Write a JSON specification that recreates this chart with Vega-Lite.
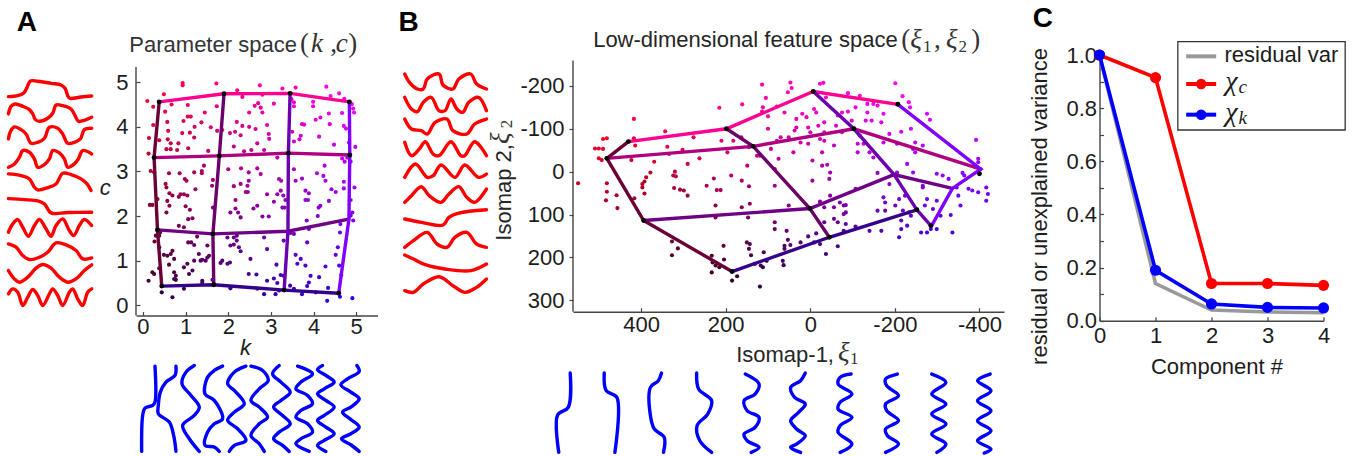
{"$schema":"https://vega.github.io/schema/vega-lite/v6.json","background":"white","padding":{"left":1,"top":5,"right":0,"bottom":0},"config":{"view":{"stroke":null},"axis":{"grid":false,"labelFont":"Liberation Sans","labelFontSize":22,"labelColor":"#1c1c1c","titleFont":"Liberation Sans","titleFontSize":22,"titleFontWeight":"normal","titleColor":"#1c1c1c","domainColor":"#444","domainWidth":1.4,"tickColor":"#444","tickWidth":1.2,"labelOverlap":false,"labelFlush":false},"text":{"baseline":"alphabetic","align":"left"}},"bounds":"flush","spacing":95.5,"resolve":{"scale":{"color":"independent"}},"hconcat":[{"width":241.5,"height":260.5,"resolve":{"scale":{"x":"independent","y":"independent","color":"independent"}},"layer":[{"data":{"values":[{"k":0.10,"c":4.58},{"k":0.24,"c":4.45},{"k":0.49,"c":4.73},{"k":0.52,"c":4.34},{"k":0.67,"c":4.5},{"k":0.93,"c":4.98},{"k":0.93,"c":4.93},{"k":1.05,"c":4.49},{"k":1.72,"c":4.97},{"k":1.73,"c":4.46},{"k":2.21,"c":4.82},{"k":2.33,"c":4.67},{"k":2.74,"c":4.93},{"k":2.70,"c":4.53},{"k":2.62,"c":4.47},{"k":3.07,"c":4.52},{"k":3.27,"c":4.86},{"k":2.80,"c":4.72},{"k":3.58,"c":4.88},{"k":3.48,"c":4.62},{"k":3.54,"c":4.55},{"k":3.54,"c":4.46},{"k":3.99,"c":4.56},{"k":3.99,"c":4.46},{"k":4.30,"c":4.90},{"k":4.40,"c":4.69},{"k":4.6,"c":4.75},{"k":4.72,"c":4.63},{"k":4.9,"c":4.51},{"k":4.93,"c":4.41},{"k":4.95,"c":4.32},{"k":4.67,"c":4.31},{"k":4.36,"c":4.3},{"k":0.24,"c":4.04},{"k":0.14,"c":3.75},{"k":0.13,"c":3.40},{"k":0.38,"c":3.70},{"k":0.57,"c":4.11},{"k":0.59,"c":3.91},{"k":0.58,"c":3.72},{"k":0.65,"c":3.63},{"k":0.55,"c":3.5},{"k":0.65,"c":3.5},{"k":0.83,"c":3.63},{"k":0.8,"c":3.48},{"k":0.95,"c":4.13},{"k":1.05,"c":4.23},{"k":1.12,"c":4.23},{"k":0.92,"c":3.86},{"k":1.1,"c":3.87},{"k":1.21,"c":4.0},{"k":1.37,"c":4.1},{"k":1.2,"c":3.76},{"k":1.06,"c":3.52},{"k":1.53,"c":3.46},{"k":1.59,"c":3.99},{"k":1.74,"c":3.91},{"k":1.86,"c":3.93},{"k":1.45,"c":4.32},{"k":2.04,"c":3.86},{"k":2.16,"c":3.89},{"k":2.2,"c":4.11},{"k":2.33,"c":4.02},{"k":2.49,"c":4.32},{"k":2.49,"c":4.0},{"k":2.29,"c":3.81},{"k":2.13,"c":3.56},{"k":2.37,"c":3.45},{"k":2.54,"c":3.48},{"k":2.68,"c":3.63},{"k":2.64,"c":3.95},{"k":2.80,"c":4.32},{"k":2.76,"c":4.43},{"k":2.91,"c":4.04},{"k":2.95,"c":3.84},{"k":2.96,"c":3.73},{"k":2.84,"c":3.48},{"k":3.15,"c":3.31},{"k":3.5,"c":3.89},{"k":3.73,"c":4.06},{"k":3.78,"c":4.05},{"k":3.7,"c":3.8},{"k":3.67,"c":3.72},{"k":3.54,"c":3.67},{"k":4.05,"c":4.16},{"k":4.16,"c":4.21},{"k":4.13,"c":3.78},{"k":4.38,"c":4.06},{"k":4.48,"c":3.6},{"k":4.71,"c":4.02},{"k":4.76,"c":3.96},{"k":4.83,"c":3.65},{"k":4.98,"c":3.55},{"k":4.67,"c":3.29},{"k":4.73,"c":3.22},{"k":4.79,"c":3.31},{"k":4.87,"c":3.22},{"k":0.18,"c":3.01},{"k":0.26,"c":2.98},{"k":0.16,"c":2.25},{"k":0.22,"c":2.25},{"k":0.34,"c":2.38},{"k":0.53,"c":2.72},{"k":0.55,"c":2.64},{"k":0.61,"c":2.96},{"k":0.62,"c":2.51},{"k":0.86,"c":2.96},{"k":0.98,"c":2.83},{"k":1.02,"c":2.79},{"k":1.2,"c":2.98},{"k":1.38,"c":3.01},{"k":1.38,"c":2.96},{"k":1.23,"c":2.6},{"k":0.88,"c":2.49},{"k":0.84,"c":2.43},{"k":0.96,"c":2.49},{"k":1.04,"c":2.46},{"k":0.69,"c":2.46},{"k":0.57,"c":2.34},{"k":0.62,"c":2.23},{"k":0.55,"c":2.08},{"k":1.0,"c":2.22},{"k":1.1,"c":2.14},{"k":1.06,"c":1.93},{"k":1.16,"c":1.95},{"k":1.64,"c":2.81},{"k":1.62,"c":2.68},{"k":1.64,"c":2.19},{"k":1.43,"c":3.13},{"k":2.0,"c":3.05},{"k":2.3,"c":3.07},{"k":2.48,"c":2.98},{"k":2.68,"c":3.07},{"k":2.76,"c":2.94},{"k":3.19,"c":2.83},{"k":3.24,"c":2.79},{"k":3.23,"c":2.57},{"k":3.15,"c":2.49},{"k":3.07,"c":2.32},{"k":3.29,"c":2.46},{"k":3.34,"c":2.36},{"k":3.27,"c":2.19},{"k":3.32,"c":2.19},{"k":2.68,"c":2.23},{"k":2.59,"c":2.17},{"k":2.91,"c":2.49},{"k":2.48,"c":2.79},{"k":2.45,"c":2.68},{"k":2.29,"c":2.72},{"k":2.13,"c":2.67},{"k":2.41,"c":2.54},{"k":2.46,"c":2.54},{"k":2.17,"c":2.36},{"k":2.17,"c":2.17},{"k":2.05,"c":2.08},{"k":2.23,"c":2.08},{"k":2.29,"c":1.97},{"k":2.8,"c":1.99},{"k":2.95,"c":1.99},{"k":3.54,"c":3.05},{"k":3.73,"c":2.84},{"k":3.58,"c":2.79},{"k":3.81,"c":2.57},{"k":3.89,"c":2.51},{"k":3.81,"c":2.36},{"k":3.87,"c":2.36},{"k":4.08,"c":2.96},{"k":4.23,"c":2.9},{"k":4.28,"c":2.79},{"k":4.26,"c":3.13},{"k":4.42,"c":2.6},{"k":4.52,"c":2.54},{"k":4.71,"c":2.77},{"k":4.71,"c":2.62},{"k":4.96,"c":2.64},{"k":4.16,"c":2.23},{"k":4.12,"c":2.19},{"k":4.1,"c":2.0},{"k":4.36,"c":2.34},{"k":4.87,"c":2.36},{"k":4.91,"c":2.08},{"k":4.93,"c":1.9},{"k":4.87,"c":2.01},{"k":3.84,"c":1.9},{"k":3.89,"c":1.71},{"k":3.85,"c":1.41},{"k":3.54,"c":1.6},{"k":4.63,"c":1.82},{"k":0.4,"c":1.63},{"k":0.27,"c":1.43},{"k":0.38,"c":1.56},{"k":0.3,"c":1.56},{"k":0.49,"c":1.13},{"k":0.57,"c":1.11},{"k":0.65,"c":1.15},{"k":0.69,"c":1.22},{"k":0.38,"c":1.3},{"k":0.22,"c":0.74},{"k":0.26,"c":0.7},{"k":0.13,"c":0.55},{"k":0.38,"c":0.83},{"k":0.61,"c":0.91},{"k":0.73,"c":1.04},{"k":0.84,"c":1.78},{"k":0.96,"c":1.75},{"k":1.06,"c":1.41},{"k":1.13,"c":1.41},{"k":1.2,"c":1.35},{"k":1.27,"c":1.54},{"k":1.31,"c":1.15},{"k":1.2,"c":1.0},{"k":1.35,"c":1.0},{"k":1.39,"c":1.02},{"k":1.47,"c":1.0},{"k":1.55,"c":1.11},{"k":1.51,"c":1.07},{"k":1.51,"c":1.34},{"k":1.04,"c":0.93},{"k":0.96,"c":0.85},{"k":1.16,"c":0.78},{"k":1.08,"c":0.7},{"k":0.73,"c":0.74},{"k":0.77,"c":0.66},{"k":0.73,"c":0.59},{"k":0.77,"c":0.57},{"k":0.44,"c":0.29},{"k":0.69,"c":0.18},{"k":0.96,"c":0.37},{"k":1.39,"c":0.55},{"k":1.39,"c":0.5},{"k":1.63,"c":0.57},{"k":2.05,"c":0.38},{"k":1.86,"c":1.0},{"k":1.82,"c":0.95},{"k":1.98,"c":0.93},{"k":2.04,"c":0.96},{"k":2.05,"c":1.34},{"k":2.13,"c":1.36},{"k":2.2,"c":1.45},{"k":1.98,"c":1.52},{"k":2.13,"c":1.52},{"k":2.2,"c":1.56},{"k":2.25,"c":1.3},{"k":2.29,"c":1.21},{"k":2.52,"c":1.04},{"k":2.48,"c":0.7},{"k":2.66,"c":0.69},{"k":2.84,"c":0.25},{"k":3.11,"c":0.25},{"k":3.19,"c":0.33},{"k":2.68,"c":0.37},{"k":2.91,"c":0.55},{"k":3.13,"c":0.91},{"k":3.07,"c":0.6},{"k":3.23,"c":0.68},{"k":3.3,"c":0.66},{"k":3.15,"c":0.5},{"k":2.91,"c":1.26},{"k":2.84,"c":1.52},{"k":3.3,"c":1.45},{"k":3.46,"c":1.62},{"k":3.58,"c":1.13},{"k":3.7,"c":1.04},{"k":3.62,"c":0.93},{"k":3.81,"c":0.89},{"k":3.93,"c":0.66},{"k":4.13,"c":0.63},{"k":3.85,"c":0.43},{"k":3.89,"c":0.51},{"k":3.73,"c":0.25},{"k":4.28,"c":0.87},{"k":4.52,"c":1.13},{"k":4.57,"c":1.3},{"k":4.6,"c":0.89},{"k":4.62,"c":1.63},{"k":4.65,"c":0.68},{"k":4.34,"c":0.39},{"k":4.32,"c":0.1},{"k":4.05,"c":0.29},{"k":4.62,"c":0.19},{"k":4.91,"c":0.16},{"k":3.45,"c":0.44},{"k":3.54,"c":0.37}]},"transform":[{"calculate":"'rgb('+round(40+datum.c*44)+',0,'+round(40+datum.k*43)+')'","as":"col"}],"mark":{"type":"circle","size":17,"opacity":1},"encoding":{"x":{"field":"k","type":"quantitative","scale":{"domain":[-0.164,5.5],"nice":false,"zero":false},"axis":{"values":[0,1,2,3,4,5],"format":"d","tickSize":-4,"labelPadding":4.5,"domain":true,"title":"k","titleFont":"Liberation Sans","titleFontStyle":"italic","titleX":109,"titlePadding":0}},"y":{"field":"c","type":"quantitative","scale":{"domain":[-0.229,5.61],"nice":false,"zero":false},"axis":{"values":[0,1,2,3,4,5],"format":"d","tickSize":-4,"labelPadding":12,"domain":false,"title":"c","titleAngle":0,"titleFontStyle":"italic","titleY":144,"titlePadding":11}},"color":{"field":"col","type":"nominal","scale":null}}},{"data":{"values":[{"a":-0.164,"b":-0.229,"b2":5.34}]},"mark":{"type":"rule","color":"#444","strokeWidth":1.4},"encoding":{"x":{"field":"a","type":"quantitative","scale":{"domain":[-0.164,5.5],"nice":false,"zero":false},"axis":null},"y":{"field":"b","type":"quantitative","scale":{"domain":[-0.229,5.61],"nice":false,"zero":false},"axis":null},"y2":{"field":"b2"}}},{"data":{"values":[{"l":"c5","k":0.38,"c":4.56},{"l":"c5","k":1.9,"c":4.74},{"l":"c5","k":3.45,"c":4.75},{"l":"c5","k":4.84,"c":4.56},{"l":"c3","k":0.26,"c":3.31},{"l":"c3","k":1.79,"c":3.35},{"l":"c3","k":3.41,"c":3.41},{"l":"c3","k":4.85,"c":3.37},{"l":"c2","k":0.34,"c":1.69},{"l":"c2","k":1.64,"c":1.6},{"l":"c2","k":3.4,"c":1.66},{"l":"c2","k":4.83,"c":1.93},{"l":"c0","k":0.44,"c":0.43},{"l":"c0","k":1.66,"c":0.46},{"l":"c0","k":3.31,"c":0.34},{"l":"c0","k":4.59,"c":0.27},{"l":"k0","k":0.38,"c":4.56},{"l":"k0","k":0.26,"c":3.31},{"l":"k0","k":0.34,"c":1.69},{"l":"k0","k":0.44,"c":0.43},{"l":"k2","k":1.9,"c":4.74},{"l":"k2","k":1.79,"c":3.35},{"l":"k2","k":1.64,"c":1.6},{"l":"k2","k":1.66,"c":0.46},{"l":"k3","k":3.45,"c":4.75},{"l":"k3","k":3.41,"c":3.41},{"l":"k3","k":3.4,"c":1.66},{"l":"k3","k":3.31,"c":0.34},{"l":"k5","k":4.84,"c":4.56},{"l":"k5","k":4.85,"c":3.37},{"l":"k5","k":4.83,"c":1.93},{"l":"k5","k":4.59,"c":0.27}]},"mark":{"type":"line","strokeWidth":3.4,"strokeCap":"round"},"encoding":{"x":{"field":"k","type":"quantitative","scale":{"domain":[-0.164,5.5],"nice":false,"zero":false},"axis":null},"y":{"field":"c","type":"quantitative","scale":{"domain":[-0.229,5.61],"nice":false,"zero":false},"axis":null},"color":{"field":"l","type":"nominal","legend":null,"scale":{"domain":["c5","c3","c2","c0","k0","k2","k3","k5"],"range":["#ff0090","#b00080","#6f0085","#35008a","#6a0035","#6a0068","#6a00b0","#8000ff"]}},"order":{"value":null}}},{"data":{"values":[{"k":0.38,"c":4.56},{"k":1.9,"c":4.74},{"k":3.45,"c":4.75},{"k":4.84,"c":4.56},{"k":0.26,"c":3.31},{"k":1.79,"c":3.35},{"k":3.41,"c":3.41},{"k":4.85,"c":3.37},{"k":0.34,"c":1.69},{"k":1.64,"c":1.6},{"k":0.44,"c":0.43},{"k":1.66,"c":0.46},{"k":3.31,"c":0.34},{"k":4.59,"c":0.27}]},"mark":{"type":"circle","size":24,"color":"#000","opacity":1},"encoding":{"x":{"field":"k","type":"quantitative","scale":{"domain":[-0.164,5.5],"nice":false,"zero":false},"axis":null},"y":{"field":"c","type":"quantitative","scale":{"domain":[-0.229,5.61],"nice":false,"zero":false},"axis":null}}},{"data":{"values":[{"w":"r1","x":22,"y":293},{"w":"r1","x":50,"y":290},{"w":"r1","x":68,"y":282},{"w":"r1","x":78,"y":265},{"w":"r1","x":88,"y":246},{"w":"r1","x":110,"y":247},{"w":"r1","x":150,"y":253},{"w":"r1","x":180,"y":258},{"w":"r1","x":192,"y":268},{"w":"r1","x":200,"y":290},{"w":"r1","x":206,"y":298},{"w":"r1","x":240,"y":294},{"w":"r1","x":272,"y":291},{"w":"r2","x":22,"y":345},{"w":"r2","x":30,"y":322},{"w":"r2","x":42,"y":315},{"w":"r2","x":65,"y":322},{"w":"r2","x":85,"y":332},{"w":"r2","x":95,"y":345},{"w":"r2","x":103,"y":362},{"w":"r2","x":115,"y":367},{"w":"r2","x":140,"y":358},{"w":"r2","x":155,"y":343},{"w":"r2","x":165,"y":318},{"w":"r2","x":185,"y":320},{"w":"r2","x":210,"y":330},{"w":"r2","x":222,"y":350},{"w":"r2","x":232,"y":367},{"w":"r2","x":250,"y":364},{"w":"r2","x":272,"y":355},{"w":"r3","x":22,"y":420},{"w":"r3","x":28,"y":398},{"w":"r3","x":40,"y":384},{"w":"r3","x":60,"y":392},{"w":"r3","x":75,"y":405},{"w":"r3","x":90,"y":433},{"w":"r3","x":110,"y":430},{"w":"r3","x":130,"y":418},{"w":"r3","x":145,"y":385},{"w":"r3","x":170,"y":388},{"w":"r3","x":185,"y":405},{"w":"r3","x":200,"y":433},{"w":"r3","x":220,"y":430},{"w":"r3","x":238,"y":420},{"w":"r3","x":250,"y":392},{"w":"r3","x":272,"y":388},{"w":"r4","x":22,"y":505},{"w":"r4","x":40,"y":495},{"w":"r4","x":55,"y":475},{"w":"r4","x":65,"y":455},{"w":"r4","x":85,"y":460},{"w":"r4","x":100,"y":480},{"w":"r4","x":110,"y":505},{"w":"r4","x":130,"y":497},{"w":"r4","x":145,"y":480},{"w":"r4","x":155,"y":455},{"w":"r4","x":175,"y":462},{"w":"r4","x":190,"y":480},{"w":"r4","x":200,"y":505},{"w":"r4","x":220,"y":495},{"w":"r4","x":232,"y":480},{"w":"r4","x":245,"y":455},{"w":"r4","x":272,"y":465},{"w":"r5","x":22,"y":525},{"w":"r5","x":60,"y":530},{"w":"r5","x":85,"y":540},{"w":"r5","x":100,"y":565},{"w":"r5","x":110,"y":573},{"w":"r5","x":140,"y":566},{"w":"r5","x":165,"y":555},{"w":"r5","x":185,"y":523},{"w":"r5","x":210,"y":527},{"w":"r5","x":240,"y":540},{"w":"r5","x":258,"y":555},{"w":"r5","x":270,"y":575},{"w":"r6","x":22,"y":599},{"w":"r6","x":70,"y":602},{"w":"r6","x":110,"y":606},{"w":"r6","x":130,"y":615},{"w":"r6","x":150,"y":642},{"w":"r6","x":200,"y":641},{"w":"r6","x":272,"y":640},{"w":"r7","x":22,"y":700},{"w":"r7","x":35,"y":675},{"w":"r7","x":50,"y":662},{"w":"r7","x":65,"y":685},{"w":"r7","x":82,"y":712},{"w":"r7","x":100,"y":680},{"w":"r7","x":115,"y":662},{"w":"r7","x":135,"y":690},{"w":"r7","x":150,"y":712},{"w":"r7","x":165,"y":680},{"w":"r7","x":185,"y":660},{"w":"r7","x":205,"y":695},{"w":"r7","x":218,"y":710},{"w":"r7","x":235,"y":680},{"w":"r7","x":250,"y":662},{"w":"r7","x":272,"y":680},{"w":"r8","x":22,"y":735},{"w":"r8","x":45,"y":745},{"w":"r8","x":65,"y":770},{"w":"r8","x":85,"y":782},{"w":"r8","x":115,"y":775},{"w":"r8","x":140,"y":760},{"w":"r8","x":165,"y":732},{"w":"r8","x":195,"y":738},{"w":"r8","x":225,"y":755},{"w":"r8","x":245,"y":780},{"w":"r8","x":272,"y":777},{"w":"r9","x":22,"y":815},{"w":"r9","x":40,"y":840},{"w":"r9","x":55,"y":850},{"w":"r9","x":80,"y":835},{"w":"r9","x":105,"y":808},{"w":"r9","x":125,"y":797},{"w":"r9","x":150,"y":808},{"w":"r9","x":175,"y":835},{"w":"r9","x":200,"y":850},{"w":"r9","x":225,"y":840},{"w":"r9","x":250,"y":815},{"w":"r9","x":272,"y":798},{"w":"r10","x":22,"y":885},{"w":"r10","x":35,"y":870},{"w":"r10","x":50,"y":880},{"w":"r10","x":65,"y":920},{"w":"r10","x":80,"y":895},{"w":"r10","x":95,"y":872},{"w":"r10","x":110,"y":890},{"w":"r10","x":125,"y":920},{"w":"r10","x":145,"y":885},{"w":"r10","x":155,"y":870},{"w":"r10","x":170,"y":890},{"w":"r10","x":185,"y":920},{"w":"r10","x":205,"y":880},{"w":"r10","x":215,"y":870},{"w":"r10","x":230,"y":900},{"w":"r10","x":245,"y":920},{"w":"r10","x":260,"y":880},{"w":"r10","x":272,"y":870}]},"mark":{"type":"line","color":"#ff0000","strokeWidth":3.4,"interpolate":"catmull-rom","strokeCap":"round"},"encoding":{"x":{"field":"x","type":"quantitative","scale":{"domain":[405,1130],"nice":false,"zero":false},"axis":null},"y":{"field":"y","type":"quantitative","scale":{"domain":[950,168],"nice":false,"zero":false},"axis":null},"detail":{"field":"w"},"order":{"value":null}}},{"data":{"values":[{"w":"b1","x":462,"y":1102},{"w":"b1","x":462,"y":1210},{"w":"b1","x":455,"y":1220},{"w":"b1","x":432,"y":1228},{"w":"b1","x":425,"y":1250},{"w":"b1","x":422,"y":1358},{"w":"b2","x":525,"y":1102},{"w":"b2","x":522,"y":1130},{"w":"b2","x":495,"y":1150},{"w":"b2","x":478,"y":1180},{"w":"b2","x":472,"y":1220},{"w":"b2","x":472,"y":1245},{"w":"b2","x":505,"y":1270},{"w":"b2","x":518,"y":1310},{"w":"b2","x":525,"y":1358},{"w":"b3","x":580,"y":1100},{"w":"b3","x":555,"y":1120},{"w":"b3","x":543,"y":1155},{"w":"b3","x":570,"y":1190},{"w":"b3","x":595,"y":1225},{"w":"b3","x":580,"y":1250},{"w":"b3","x":545,"y":1280},{"w":"b3","x":565,"y":1320},{"w":"b3","x":595,"y":1358},{"w":"b4","x":665,"y":1102},{"w":"b4","x":640,"y":1115},{"w":"b4","x":620,"y":1135},{"w":"b4","x":612,"y":1185},{"w":"b4","x":640,"y":1205},{"w":"b4","x":665,"y":1260},{"w":"b4","x":640,"y":1275},{"w":"b4","x":620,"y":1300},{"w":"b4","x":612,"y":1340},{"w":"b4","x":640,"y":1345},{"w":"b4","x":655,"y":1358},{"w":"b5","x":735,"y":1102},{"w":"b5","x":700,"y":1120},{"w":"b5","x":680,"y":1155},{"w":"b5","x":700,"y":1175},{"w":"b5","x":730,"y":1215},{"w":"b5","x":700,"y":1240},{"w":"b5","x":680,"y":1265},{"w":"b5","x":710,"y":1290},{"w":"b5","x":735,"y":1325},{"w":"b5","x":700,"y":1340},{"w":"b5","x":685,"y":1358},{"w":"b6","x":750,"y":1102},{"w":"b6","x":785,"y":1115},{"w":"b6","x":802,"y":1145},{"w":"b6","x":775,"y":1170},{"w":"b6","x":750,"y":1205},{"w":"b6","x":775,"y":1225},{"w":"b6","x":800,"y":1255},{"w":"b6","x":775,"y":1275},{"w":"b6","x":750,"y":1310},{"w":"b6","x":775,"y":1335},{"w":"b6","x":790,"y":1358},{"w":"b7","x":835,"y":1100},{"w":"b7","x":815,"y":1125},{"w":"b7","x":840,"y":1150},{"w":"b7","x":868,"y":1180},{"w":"b7","x":840,"y":1205},{"w":"b7","x":818,"y":1225},{"w":"b7","x":845,"y":1250},{"w":"b7","x":868,"y":1275},{"w":"b7","x":835,"y":1300},{"w":"b7","x":818,"y":1320},{"w":"b7","x":845,"y":1340},{"w":"b7","x":865,"y":1358},{"w":"b8","x":890,"y":1102},{"w":"b8","x":935,"y":1125},{"w":"b8","x":900,"y":1150},{"w":"b8","x":885,"y":1170},{"w":"b8","x":920,"y":1190},{"w":"b8","x":935,"y":1215},{"w":"b8","x":900,"y":1235},{"w":"b8","x":885,"y":1255},{"w":"b8","x":920,"y":1275},{"w":"b8","x":935,"y":1300},{"w":"b8","x":900,"y":1320},{"w":"b8","x":885,"y":1335},{"w":"b8","x":925,"y":1358},{"w":"b9","x":965,"y":1100},{"w":"b9","x":950,"y":1112},{"w":"b9","x":975,"y":1130},{"w":"b9","x":1000,"y":1150},{"w":"b9","x":970,"y":1170},{"w":"b9","x":950,"y":1185},{"w":"b9","x":975,"y":1205},{"w":"b9","x":1000,"y":1225},{"w":"b9","x":970,"y":1250},{"w":"b9","x":950,"y":1265},{"w":"b9","x":975,"y":1285},{"w":"b9","x":1000,"y":1305},{"w":"b9","x":970,"y":1325},{"w":"b9","x":950,"y":1340},{"w":"b9","x":975,"y":1358},{"w":"b10","x":1068,"y":1100},{"w":"b10","x":1075,"y":1118},{"w":"b10","x":1040,"y":1140},{"w":"b10","x":1020,"y":1158},{"w":"b10","x":1050,"y":1180},{"w":"b10","x":1075,"y":1200},{"w":"b10","x":1050,"y":1225},{"w":"b10","x":1025,"y":1240},{"w":"b10","x":1050,"y":1262},{"w":"b10","x":1075,"y":1285},{"w":"b10","x":1050,"y":1305},{"w":"b10","x":1022,"y":1320},{"w":"b10","x":1050,"y":1338},{"w":"b10","x":1075,"y":1358}]},"mark":{"type":"line","color":"#0000ff","strokeWidth":3.4,"interpolate":"catmull-rom","strokeCap":"round"},"encoding":{"x":{"field":"x","type":"quantitative","scale":{"domain":[405,1130],"nice":false,"zero":false},"axis":null},"y":{"field":"y","type":"quantitative","scale":{"domain":[950,168],"nice":false,"zero":false},"axis":null},"detail":{"field":"w"},"order":{"value":null}}},{"data":{"values":[{"x":47,"y":95,"t":"A"}]},"mark":{"type":"text","font":"Liberation Sans","fontWeight":"bold","fontSize":28,"color":"#000"},"encoding":{"x":{"field":"x","type":"quantitative","scale":{"domain":[405,1130],"nice":false,"zero":false},"axis":null},"y":{"field":"y","type":"quantitative","scale":{"domain":[950,168],"nice":false,"zero":false},"axis":null},"text":{"field":"t"}}},{"data":{"values":[{"x":385,"y":158,"t":"Parameter space"}]},"mark":{"type":"text","font":"Liberation Sans","fontSize":22,"color":"#333"},"encoding":{"x":{"field":"x","type":"quantitative","scale":{"domain":[405,1130],"nice":false,"zero":false},"axis":null},"y":{"field":"y","type":"quantitative","scale":{"domain":[950,168],"nice":false,"zero":false},"axis":null},"text":{"field":"t"}}},{"data":{"values":[{"x":897,"y":158,"t":"("},{"x":988,"y":158,"t":","},{"x":1042,"y":158,"t":")"}]},"mark":{"type":"text","font":"Liberation Serif","fontSize":27,"color":"#333"},"encoding":{"x":{"field":"x","type":"quantitative","scale":{"domain":[405,1130],"nice":false,"zero":false},"axis":null},"y":{"field":"y","type":"quantitative","scale":{"domain":[950,168],"nice":false,"zero":false},"axis":null},"text":{"field":"t"}}},{"data":{"values":[{"x":930,"y":158,"t":"k"},{"x":1005,"y":158,"t":"c"}]},"mark":{"type":"text","font":"Liberation Serif","fontStyle":"italic","fontSize":27,"color":"#333"},"encoding":{"x":{"field":"x","type":"quantitative","scale":{"domain":[405,1130],"nice":false,"zero":false},"axis":null},"y":{"field":"y","type":"quantitative","scale":{"domain":[950,168],"nice":false,"zero":false},"axis":null},"text":{"field":"t"}}}]},{"width":3.5,"height":1,"data":{"values":[{"t":""}]},"mark":{"type":"text"},"encoding":{"text":{"field":"t"}}},{"width":431,"height":256.7,"resolve":{"scale":{"x":"independent","y":"independent","color":"independent"}},"layer":[{"data":{"values":[{"iso1":549,"iso2":27},{"iso1":509,"iso2":-54},{"iso1":500,"iso2":-54},{"iso1":490,"iso2":-53},{"iso1":490,"iso2":-76},{"iso1":481,"iso2":-78},{"iso1":500,"iso2":-31},{"iso1":493,"iso2":-27},{"iso1":481,"iso2":27},{"iso1":481,"iso2":47},{"iso1":483,"iso2":67},{"iso1":458,"iso2":55},{"iso1":456,"iso2":85},{"iso1":417,"iso2":-123},{"iso1":417,"iso2":-78},{"iso1":414,"iso2":-61},{"iso1":423,"iso2":-27},{"iso1":343,"iso2":-94},{"iso1":338,"iso2":-58},{"iso1":334,"iso2":-41},{"iso1":302,"iso2":-51},{"iso1":378,"iso2":2},{"iso1":388,"iso2":13},{"iso1":392,"iso2":23},{"iso1":397,"iso2":29},{"iso1":397,"iso2":37},{"iso1":392,"iso2":51},{"iso1":416,"iso2":62},{"iso1":369,"iso2":-23},{"iso1":320,"iso2":0},{"iso1":324,"iso2":9},{"iso1":318,"iso2":11},{"iso1":322,"iso2":38},{"iso1":308,"iso2":42},{"iso1":299,"iso2":44},{"iso1":290,"iso2":-18},{"iso1":262,"iso2":-31},{"iso1":276,"iso2":-80},{"iso1":245,"iso2":33},{"iso1":228,"iso2":16},{"iso1":221,"iso2":43},{"iso1":212,"iso2":43},{"iso1":187,"iso2":9},{"iso1":162,"iso2":21},{"iso1":145,"iso2":34},{"iso1":84,"iso2":33},{"iso1":290,"iso2":56},{"iso1":224,"iso2":79},{"iso1":224,"iso2":107},{"iso1":162,"iso2":83},{"iso1":143,"iso2":75},{"iso1":147,"iso2":107},{"iso1":51,"iso2":79},{"iso1":327,"iso2":163},{"iso1":313,"iso2":179},{"iso1":327,"iso2":195},{"iso1":205,"iso2":173},{"iso1":233,"iso2":196},{"iso1":231,"iso2":212},{"iso1":224,"iso2":219},{"iso1":204,"iso2":205},{"iso1":215,"iso2":223},{"iso1":233,"iso2":235},{"iso1":185,"iso2":254},{"iso1":173,"iso2":244},{"iso1":119,"iso2":268},{"iso1":150,"iso2":165},{"iso1":143,"iso2":169},{"iso1":145,"iso2":180},{"iso1":140,"iso2":195},{"iso1":110,"iso2":188},{"iso1":131,"iso2":215},{"iso1":117,"iso2":219},{"iso1":112,"iso2":223},{"iso1":103,"iso2":208},{"iso1":65,"iso2":208},{"iso1":63,"iso2":218},{"iso1":61,"iso2":180},{"iso1":61,"iso2":173},{"iso1":47,"iso2":171},{"iso1":56,"iso2":138},{"iso1":53,"iso2":159},{"iso1":84,"iso2":118},{"iso1":84,"iso2":134},{"iso1":23,"iso2":165},{"iso1":5,"iso2":151},{"iso1":-14,"iso2":144},{"iso1":-9,"iso2":165},{"iso1":-23,"iso2":169},{"iso1":-37,"iso2":192},{"iso1":-65,"iso2":174},{"iso1":-23,"iso2":70},{"iso1":-47,"iso2":56},{"iso1":-70,"iso2":72},{"iso1":-33,"iso2":83},{"iso1":-56,"iso2":83},{"iso1":-79,"iso2":79},{"iso1":-84,"iso2":95},{"iso1":-79,"iso2":99},{"iso1":-56,"iso2":110},{"iso1":-65,"iso2":118},{"iso1":-84,"iso2":122},{"iso1":-33,"iso2":118},{"iso1":-79,"iso2":138},{"iso1":-107,"iso2":128},{"iso1":-107,"iso2":40},{"iso1":-84,"iso2":78},{"iso1":-173,"iso2":60},{"iso1":-177,"iso2":72},{"iso1":-159,"iso2":91},{"iso1":-177,"iso2":91},{"iso1":-140,"iso2":138},{"iso1":-168,"iso2":138},{"iso1":-210,"iso2":153},{"iso1":-215,"iso2":134},{"iso1":-229,"iso2":126},{"iso1":-215,"iso2":114},{"iso1":-219,"iso2":91},{"iso1":-233,"iso2":95},{"iso1":-238,"iso2":103},{"iso1":-262,"iso2":142},{"iso1":-276,"iso2":142},{"iso1":-285,"iso2":134},{"iso1":-299,"iso2":134},{"iso1":-336,"iso2":142},{"iso1":-276,"iso2":64},{"iso1":-271,"iso2":79},{"iso1":-299,"iso2":68},{"iso1":-290,"iso2":87},{"iso1":-308,"iso2":103},{"iso1":-332,"iso2":101},{"iso1":-355,"iso2":79},{"iso1":-266,"iso2":33},{"iso1":-224,"iso2":56},{"iso1":-210,"iso2":64},{"iso1":-201,"iso2":79},{"iso1":215,"iso2":-149},{"iso1":161,"iso2":-157},{"iso1":114,"iso2":-203},{"iso1":105,"iso2":-172},{"iso1":112,"iso2":-150},{"iso1":114,"iso2":-140},{"iso1":47,"iso2":-208},{"iso1":44,"iso2":-195},{"iso1":53,"iso2":-185},{"iso1":-23,"iso2":-205},{"iso1":-31,"iso2":-207},{"iso1":79,"iso2":-152},{"iso1":100,"iso2":-129},{"iso1":61,"iso2":-138},{"iso1":100,"iso2":-100},{"iso1":33,"iso2":-123},{"iso1":19,"iso2":-135},{"iso1":9,"iso2":-127},{"iso1":-9,"iso2":-146},{"iso1":-14,"iso2":-138},{"iso1":-37,"iso2":-173},{"iso1":-89,"iso2":-183},{"iso1":-117,"iso2":-177},{"iso1":-107,"iso2":-150},{"iso1":-135,"iso2":-158},{"iso1":-149,"iso2":-158},{"iso1":-159,"iso2":-154},{"iso1":-201,"iso2":-206},{"iso1":-218,"iso2":-176},{"iso1":-233,"iso2":-162},{"iso1":-236,"iso2":-150},{"iso1":-276,"iso2":-135},{"iso1":-283,"iso2":-121},{"iso1":-238,"iso2":-100},{"iso1":-215,"iso2":-93},{"iso1":-248,"iso2":-68},{"iso1":-266,"iso2":-61},{"iso1":-243,"iso2":-53},{"iso1":-248,"iso2":-45},{"iso1":-392,"iso2":-74},{"iso1":-397,"iso2":-30},{"iso1":-397,"iso2":-22},{"iso1":-75,"iso2":-138},{"iso1":-89,"iso2":-140},{"iso1":-65,"iso2":-131},{"iso1":-135,"iso2":-138},{"iso1":-145,"iso2":-119},{"iso1":-173,"iso2":-135},{"iso1":-168,"iso2":-115},{"iso1":-98,"iso2":-119},{"iso1":-131,"iso2":-119},{"iso1":-33,"iso2":-115},{"iso1":-19,"iso2":-107},{"iso1":5,"iso2":-103},{"iso1":33,"iso2":-103},{"iso1":37,"iso2":-96},{"iso1":0,"iso2":-92},{"iso1":-33,"iso2":-92},{"iso1":-61,"iso2":-107},{"iso1":-75,"iso2":-92},{"iso1":70,"iso2":-80},{"iso1":79,"iso2":-72},{"iso1":51,"iso2":-80},{"iso1":23,"iso2":-68},{"iso1":5,"iso2":-65},{"iso1":-23,"iso2":-76},{"iso1":-33,"iso2":-72},{"iso1":-56,"iso2":-61},{"iso1":-28,"iso2":-45},{"iso1":-112,"iso2":-65},{"iso1":-112,"iso2":-45},{"iso1":-126,"iso2":-65},{"iso1":-140,"iso2":-45},{"iso1":-149,"iso2":-33},{"iso1":-173,"iso2":-68},{"iso1":-205,"iso2":-65},{"iso1":-187,"iso2":-88},{"iso1":-117,"iso2":-84},{"iso1":75,"iso2":-30},{"iso1":40,"iso2":-45},{"iso1":-5,"iso2":-26},{"iso1":-28,"iso2":-14},{"iso1":-40,"iso2":-16},{"iso1":-47,"iso2":2},{"iso1":-45,"iso2":17},{"iso1":-5,"iso2":21},{"iso1":84,"iso2":-6},{"iso1":149,"iso2":-14},{"iso1":119,"iso2":-37},{"iso1":126,"iso2":-37},{"iso1":145,"iso2":-57},{"iso1":196,"iso2":-45},{"iso1":210,"iso2":-72},{"iso1":182,"iso2":-72},{"iso1":163,"iso2":-80},{"iso1":93,"iso2":-53},{"iso1":-159,"iso2":3},{"iso1":-205,"iso2":2},{"iso1":-229,"iso2":-18},{"iso1":-243,"iso2":2},{"iso1":-187,"iso2":29},{"iso1":-266,"iso2":37},{"iso1":-299,"iso2":5},{"iso1":-313,"iso2":9},{"iso1":-327,"iso2":17},{"iso1":-360,"iso2":3},{"iso1":-364,"iso2":9},{"iso1":-346,"iso2":37},{"iso1":-350,"iso2":56},{"iso1":-374,"iso2":40},{"iso1":-383,"iso2":44},{"iso1":-397,"iso2":48},{"iso1":-416,"iso2":37},{"iso1":-416,"iso2":68},{"iso1":-420,"iso2":52},{"iso1":-402,"iso2":-6}]},"transform":[{"calculate":"clamp(2.744-0.0072*datum.iso1-0.0051*datum.iso2,0,5)","as":"k"},{"calculate":"clamp(2.92+0.00168*datum.iso1-0.0122*datum.iso2,0,5)","as":"c"},{"calculate":"'rgb('+round(40+datum.c*44)+',0,'+round(40+datum.k*43)+')'","as":"col"}],"mark":{"type":"circle","size":17,"opacity":1},"encoding":{"x":{"field":"iso1","type":"quantitative","scale":{"domain":[561,-458],"nice":false,"zero":false},"axis":{"values":[400,200,0,-200,-400],"labelExpr":"''+datum.value","tickSize":-4,"labelPadding":7,"title":null}},"y":{"field":"iso2","type":"quantitative","scale":{"domain":[326.6,-272],"nice":false,"zero":false},"axis":{"values":[-200,-100,0,100,200,300],"labelExpr":"''+datum.value","tickSize":4,"labelPadding":5,"domain":false,"title":null}},"color":{"field":"col","type":"nominal","scale":null}}},{"data":{"values":[{"a":561,"b":326.6,"b2":-259}]},"mark":{"type":"rule","color":"#444","strokeWidth":1.4},"encoding":{"x":{"field":"a","type":"quantitative","scale":{"domain":[561,-458],"nice":false,"zero":false},"axis":null},"y":{"field":"b","type":"quantitative","scale":{"domain":[326.6,-272],"nice":false,"zero":false},"axis":null},"y2":{"field":"b2"}}},{"data":{"values":[{"l":"c5","a":430,"b":-70},{"l":"c5","a":198,"b":-100},{"l":"c5","a":-7,"b":-187},{"l":"c5","a":-207,"b":-157},{"l":"c3","a":481,"b":-31},{"l":"c3","a":135,"b":-59},{"l":"c3","a":-103,"b":-100},{"l":"c3","a":-403,"b":-6},{"l":"c2","a":394,"b":114},{"l":"c2","a":1,"b":86},{"l":"c2","a":-198,"b":7},{"l":"c2","a":-336,"b":39},{"l":"c0","a":185,"b":233},{"l":"c0","a":-45,"b":153},{"l":"c0","a":-252,"b":89},{"l":"k0","a":430,"b":-70},{"l":"k0","a":481,"b":-31},{"l":"k0","a":394,"b":114},{"l":"k0","a":185,"b":233},{"l":"k2","a":198,"b":-100},{"l":"k2","a":135,"b":-59},{"l":"k2","a":1,"b":86},{"l":"k2","a":-45,"b":153},{"l":"k3","a":-7,"b":-187},{"l":"k3","a":-103,"b":-100},{"l":"k3","a":-198,"b":7},{"l":"k3","a":-252,"b":89},{"l":"k3","a":-285,"b":126},{"l":"k5","a":-207,"b":-157},{"l":"k5","a":-403,"b":-6},{"l":"k5","a":-336,"b":39},{"l":"k5","a":-287,"b":126}]},"mark":{"type":"line","strokeWidth":3.4,"strokeCap":"round"},"encoding":{"x":{"field":"a","type":"quantitative","scale":{"domain":[561,-458],"nice":false,"zero":false},"axis":null},"y":{"field":"b","type":"quantitative","scale":{"domain":[326.6,-272],"nice":false,"zero":false},"axis":null},"color":{"field":"l","type":"nominal","legend":null,"scale":{"domain":["k0","k2","k3","k5","c0","c2","c3","c5"],"range":["#6a0035","#6a0068","#6a00b0","#8000ff","#35008a","#6f0085","#b00080","#ff0090"]}},"order":{"value":null}}},{"data":{"values":[{"a":430,"b":-70},{"a":481,"b":-31},{"a":394,"b":114},{"a":185,"b":233},{"a":198,"b":-100},{"a":135,"b":-59},{"a":1,"b":86},{"a":-45,"b":153},{"a":-7,"b":-187},{"a":-103,"b":-100},{"a":-285,"b":126},{"a":-252,"b":89},{"a":-207,"b":-157},{"a":-400,"b":5}]},"mark":{"type":"circle","size":24,"color":"#000","opacity":1},"encoding":{"x":{"field":"a","type":"quantitative","scale":{"domain":[561,-458],"nice":false,"zero":false},"axis":null},"y":{"field":"b","type":"quantitative","scale":{"domain":[326.6,-272],"nice":false,"zero":false},"axis":null}}},{"data":{"values":[{"w":"r1","x":38,"y":225},{"w":"r1","x":50,"y":250},{"w":"r1","x":70,"y":270},{"w":"r1","x":85,"y":270},{"w":"r1","x":95,"y":240},{"w":"r1","x":125,"y":225},{"w":"r1","x":135,"y":258},{"w":"r1","x":160,"y":270},{"w":"r1","x":175,"y":240},{"w":"r1","x":205,"y":225},{"w":"r1","x":220,"y":255},{"w":"r1","x":245,"y":270},{"w":"r2","x":38,"y":295},{"w":"r2","x":55,"y":330},{"w":"r2","x":70,"y":338},{"w":"r2","x":85,"y":310},{"w":"r2","x":105,"y":295},{"w":"r2","x":125,"y":335},{"w":"r2","x":140,"y":335},{"w":"r2","x":155,"y":300},{"w":"r2","x":170,"y":330},{"w":"r2","x":185,"y":340},{"w":"r2","x":200,"y":310},{"w":"r2","x":225,"y":295},{"w":"r2","x":245,"y":335},{"w":"r3","x":38,"y":360},{"w":"r3","x":55,"y":390},{"w":"r3","x":80,"y":395},{"w":"r3","x":95,"y":405},{"w":"r3","x":115,"y":370},{"w":"r3","x":145,"y":360},{"w":"r3","x":160,"y":395},{"w":"r3","x":195,"y":405},{"w":"r3","x":215,"y":375},{"w":"r3","x":245,"y":360},{"w":"r4","x":38,"y":430},{"w":"r4","x":55,"y":470},{"w":"r4","x":75,"y":450},{"w":"r4","x":90,"y":428},{"w":"r4","x":110,"y":465},{"w":"r4","x":125,"y":470},{"w":"r4","x":155,"y":428},{"w":"r4","x":180,"y":470},{"w":"r4","x":190,"y":470},{"w":"r4","x":215,"y":428},{"w":"r4","x":245,"y":470},{"w":"r5","x":38,"y":535},{"w":"r5","x":65,"y":495},{"w":"r5","x":95,"y":535},{"w":"r5","x":110,"y":530},{"w":"r5","x":130,"y":498},{"w":"r5","x":165,"y":535},{"w":"r5","x":190,"y":498},{"w":"r5","x":225,"y":535},{"w":"r5","x":245,"y":525},{"w":"r6","x":38,"y":610},{"w":"r6","x":55,"y":590},{"w":"r6","x":80,"y":563},{"w":"r6","x":100,"y":590},{"w":"r6","x":130,"y":610},{"w":"r6","x":150,"y":585},{"w":"r6","x":175,"y":563},{"w":"r6","x":195,"y":595},{"w":"r6","x":215,"y":610},{"w":"r6","x":245,"y":570},{"w":"r7","x":38,"y":660},{"w":"r7","x":80,"y":670},{"w":"r7","x":135,"y":678},{"w":"r7","x":150,"y":655},{"w":"r7","x":175,"y":642},{"w":"r7","x":245,"y":632},{"w":"r8","x":38,"y":745},{"w":"r8","x":60,"y":725},{"w":"r8","x":95,"y":700},{"w":"r8","x":120,"y":735},{"w":"r8","x":145,"y":745},{"w":"r8","x":165,"y":715},{"w":"r8","x":195,"y":700},{"w":"r8","x":220,"y":735},{"w":"r8","x":245,"y":745},{"w":"r9","x":38,"y":768},{"w":"r9","x":60,"y":780},{"w":"r9","x":90,"y":797},{"w":"r9","x":140,"y":810},{"w":"r9","x":205,"y":815},{"w":"r9","x":245,"y":795},{"w":"r10","x":38,"y":875},{"w":"r10","x":60,"y":880},{"w":"r10","x":85,"y":855},{"w":"r10","x":125,"y":833},{"w":"r10","x":160,"y":860},{"w":"r10","x":190,"y":880},{"w":"r10","x":220,"y":865},{"w":"r10","x":245,"y":840}]},"mark":{"type":"line","color":"#ff0000","strokeWidth":3.4,"interpolate":"catmull-rom","strokeCap":"round"},"encoding":{"x":{"field":"x","type":"quantitative","scale":{"domain":[464,1555],"nice":false,"zero":false},"axis":null},"y":{"field":"y","type":"quantitative","scale":{"domain":[938,168],"nice":false,"zero":false},"axis":null},"detail":{"field":"w"},"order":{"value":null}}},{"data":{"values":[{"w":"b1","x":457,"y":1122},{"w":"b1","x":452,"y":1225},{"w":"b1","x":425,"y":1248},{"w":"b1","x":428,"y":1360},{"w":"b2","x":543,"y":1122},{"w":"b2","x":548,"y":1175},{"w":"b2","x":575,"y":1195},{"w":"b2","x":570,"y":1360},{"w":"b3","x":688,"y":1122},{"w":"b3","x":680,"y":1145},{"w":"b3","x":660,"y":1165},{"w":"b3","x":660,"y":1250},{"w":"b3","x":670,"y":1290},{"w":"b3","x":695,"y":1315},{"w":"b3","x":693,"y":1360},{"w":"b4","x":777,"y":1122},{"w":"b4","x":782,"y":1170},{"w":"b4","x":815,"y":1205},{"w":"b4","x":805,"y":1245},{"w":"b4","x":778,"y":1280},{"w":"b4","x":785,"y":1325},{"w":"b4","x":815,"y":1360},{"w":"b5","x":900,"y":1125},{"w":"b5","x":935,"y":1155},{"w":"b5","x":925,"y":1185},{"w":"b5","x":897,"y":1205},{"w":"b5","x":905,"y":1235},{"w":"b5","x":935,"y":1255},{"w":"b5","x":925,"y":1285},{"w":"b5","x":897,"y":1305},{"w":"b5","x":905,"y":1325},{"w":"b5","x":935,"y":1345},{"w":"b5","x":915,"y":1360},{"w":"b6","x":1052,"y":1122},{"w":"b6","x":1040,"y":1145},{"w":"b6","x":1015,"y":1165},{"w":"b6","x":1025,"y":1195},{"w":"b6","x":1052,"y":1215},{"w":"b6","x":1035,"y":1240},{"w":"b6","x":1015,"y":1265},{"w":"b6","x":1030,"y":1290},{"w":"b6","x":1052,"y":1310},{"w":"b6","x":1030,"y":1335},{"w":"b6","x":1015,"y":1345},{"w":"b6","x":1040,"y":1360},{"w":"b7","x":1168,"y":1125},{"w":"b7","x":1140,"y":1135},{"w":"b7","x":1135,"y":1155},{"w":"b7","x":1170,"y":1185},{"w":"b7","x":1140,"y":1210},{"w":"b7","x":1135,"y":1230},{"w":"b7","x":1170,"y":1255},{"w":"b7","x":1140,"y":1280},{"w":"b7","x":1135,"y":1300},{"w":"b7","x":1170,"y":1335},{"w":"b7","x":1140,"y":1360},{"w":"b8","x":1285,"y":1125},{"w":"b8","x":1255,"y":1140},{"w":"b8","x":1258,"y":1160},{"w":"b8","x":1288,"y":1190},{"w":"b8","x":1255,"y":1215},{"w":"b8","x":1258,"y":1235},{"w":"b8","x":1288,"y":1265},{"w":"b8","x":1255,"y":1290},{"w":"b8","x":1260,"y":1310},{"w":"b8","x":1288,"y":1335},{"w":"b8","x":1255,"y":1360},{"w":"b9","x":1372,"y":1125},{"w":"b9","x":1408,"y":1150},{"w":"b9","x":1372,"y":1185},{"w":"b9","x":1408,"y":1215},{"w":"b9","x":1372,"y":1245},{"w":"b9","x":1408,"y":1275},{"w":"b9","x":1372,"y":1305},{"w":"b9","x":1408,"y":1335},{"w":"b9","x":1385,"y":1360},{"w":"b10","x":1520,"y":1125},{"w":"b10","x":1488,"y":1145},{"w":"b10","x":1522,"y":1175},{"w":"b10","x":1488,"y":1205},{"w":"b10","x":1522,"y":1235},{"w":"b10","x":1488,"y":1265},{"w":"b10","x":1522,"y":1295},{"w":"b10","x":1488,"y":1325},{"w":"b10","x":1522,"y":1350},{"w":"b10","x":1505,"y":1362}]},"mark":{"type":"line","color":"#0000ff","strokeWidth":3.4,"interpolate":"catmull-rom","strokeCap":"round"},"encoding":{"x":{"field":"x","type":"quantitative","scale":{"domain":[464,1555],"nice":false,"zero":false},"axis":null},"y":{"field":"y","type":"quantitative","scale":{"domain":[938,168],"nice":false,"zero":false},"axis":null},"detail":{"field":"w"},"order":{"value":null}}},{"data":{"values":[{"x":22,"y":95,"t":"B"}]},"mark":{"type":"text","font":"Liberation Sans","fontWeight":"bold","fontSize":28,"color":"#000"},"encoding":{"x":{"field":"x","type":"quantitative","scale":{"domain":[464,1555],"nice":false,"zero":false},"axis":null},"y":{"field":"y","type":"quantitative","scale":{"domain":[938,168],"nice":false,"zero":false},"axis":null},"text":{"field":"t"}}},{"data":{"values":[{"x":515,"y":145,"t":"Low-dimensional feature space"},{"x":877,"y":1088,"t":"Isomap-1,"}]},"mark":{"type":"text","font":"Liberation Sans","fontSize":22,"color":"#262626"},"encoding":{"x":{"field":"x","type":"quantitative","scale":{"domain":[464,1555],"nice":false,"zero":false},"axis":null},"y":{"field":"y","type":"quantitative","scale":{"domain":[938,168],"nice":false,"zero":false},"axis":null},"text":{"field":"t"}}},{"data":{"values":[{"x":308,"y":725,"t":"Isomap 2,"}]},"mark":{"type":"text","font":"Liberation Sans","fontSize":22,"angle":270,"color":"#262626"},"encoding":{"x":{"field":"x","type":"quantitative","scale":{"domain":[464,1555],"nice":false,"zero":false},"axis":null},"y":{"field":"y","type":"quantitative","scale":{"domain":[938,168],"nice":false,"zero":false},"axis":null},"text":{"field":"t"}}},{"data":{"values":[{"x":1295,"y":148,"t":"("},{"x":1378,"y":148,"t":","},{"x":1472,"y":148,"t":")"}]},"mark":{"type":"text","font":"Liberation Serif","fontSize":27,"color":"#333"},"encoding":{"x":{"field":"x","type":"quantitative","scale":{"domain":[464,1555],"nice":false,"zero":false},"axis":null},"y":{"field":"y","type":"quantitative","scale":{"domain":[938,168],"nice":false,"zero":false},"axis":null},"text":{"field":"t"}}},{"data":{"values":[{"x":1318,"y":148,"t":"ξ"},{"x":1408,"y":148,"t":"ξ"},{"x":1135,"y":1085,"t":"ξ"}]},"mark":{"type":"text","font":"Liberation Serif","fontStyle":"italic","fontSize":27,"color":"#333"},"encoding":{"x":{"field":"x","type":"quantitative","scale":{"domain":[464,1555],"nice":false,"zero":false},"axis":null},"y":{"field":"y","type":"quantitative","scale":{"domain":[938,168],"nice":false,"zero":false},"axis":null},"text":{"field":"t"}}},{"data":{"values":[{"x":1350,"y":158,"t":"1"},{"x":1440,"y":158,"t":"2"},{"x":1165,"y":1095,"t":"1"}]},"mark":{"type":"text","font":"Liberation Serif","fontSize":17,"color":"#333"},"encoding":{"x":{"field":"x","type":"quantitative","scale":{"domain":[464,1555],"nice":false,"zero":false},"axis":null},"y":{"field":"y","type":"quantitative","scale":{"domain":[938,168],"nice":false,"zero":false},"axis":null},"text":{"field":"t"}}},{"data":{"values":[{"x":302,"y":435,"t":"ξ"}]},"mark":{"type":"text","font":"Liberation Serif","fontStyle":"italic","fontSize":27,"angle":270,"color":"#333"},"encoding":{"x":{"field":"x","type":"quantitative","scale":{"domain":[464,1555],"nice":false,"zero":false},"axis":null},"y":{"field":"y","type":"quantitative","scale":{"domain":[938,168],"nice":false,"zero":false},"axis":null},"text":{"field":"t"}}},{"data":{"values":[{"x":310,"y":388,"t":"2"}]},"mark":{"type":"text","font":"Liberation Serif","fontSize":17,"angle":270,"color":"#333"},"encoding":{"x":{"field":"x","type":"quantitative","scale":{"domain":[464,1555],"nice":false,"zero":false},"axis":null},"y":{"field":"y","type":"quantitative","scale":{"domain":[938,168],"nice":false,"zero":false},"axis":null},"text":{"field":"t"}}}]},{"width":224,"height":265.7,"resolve":{"scale":{"x":"independent","y":"independent","color":"independent"}},"layer":[{"data":{"values":[{"n":0,"v":1,"s":"residual var"},{"n":1,"v":0.14,"s":"residual var"},{"n":2,"v":0.04,"s":"residual var"},{"n":3,"v":0.033,"s":"residual var"},{"n":4,"v":0.03,"s":"residual var"},{"n":0,"v":1,"s":"chi_c"},{"n":1,"v":0.915,"s":"chi_c"},{"n":2,"v":0.14,"s":"chi_c"},{"n":3,"v":0.14,"s":"chi_c"},{"n":4,"v":0.133,"s":"chi_c"},{"n":0,"v":1,"s":"chi_k"},{"n":1,"v":0.19,"s":"chi_k"},{"n":2,"v":0.063,"s":"chi_k"},{"n":3,"v":0.05,"s":"chi_k"},{"n":4,"v":0.048,"s":"chi_k"}]},"mark":{"type":"line","strokeWidth":3.6},"encoding":{"x":{"field":"n","type":"quantitative","scale":{"domain":[0,4],"nice":false,"zero":false},"axis":{"values":[0,1,2,3,4],"format":"d","tickSize":-4,"labelPadding":9,"title":"Component #","titlePadding":10,"titleX":117}},"y":{"field":"v","type":"quantitative","scale":{"domain":[0,1],"nice":false,"zero":false},"axis":{"values":[0,0.1,0.2,0.3,0.4,0.5,0.6,0.7,0.8,0.9,1],"labelExpr":"round(datum.value*10)%2==0?format(datum.value,'.1f'):''","tickSize":-4,"labelPadding":7,"title":"residual or unexplained variance","titlePadding":14,"titleY":151}},"color":{"field":"s","type":"nominal","legend":null,"scale":{"domain":["residual var","chi_c","chi_k"],"range":["#999999","#ff0000","#0000ff"]}}}},{"data":{"values":[{"n":1,"v":0.915,"s":"chi_c"},{"n":2,"v":0.14,"s":"chi_c"},{"n":3,"v":0.14,"s":"chi_c"},{"n":4,"v":0.133,"s":"chi_c"},{"n":0,"v":1,"s":"chi_c"},{"n":0,"v":1,"s":"chi_k"},{"n":1,"v":0.19,"s":"chi_k"},{"n":2,"v":0.063,"s":"chi_k"},{"n":3,"v":0.05,"s":"chi_k"},{"n":4,"v":0.048,"s":"chi_k"}]},"mark":{"type":"circle","size":125,"opacity":1},"encoding":{"x":{"field":"n","type":"quantitative","scale":{"domain":[0,4],"nice":false,"zero":false},"axis":null},"y":{"field":"v","type":"quantitative","scale":{"domain":[0,1],"nice":false,"zero":false},"axis":null},"color":{"field":"s","type":"nominal","legend":null,"scale":{"domain":["chi_c","chi_k"],"range":["#ff0000","#0000ff"]}}}},{"data":{"values":[{"x":475,"x2":977,"y":128,"y2":393}]},"mark":{"type":"rect","fill":"white","stroke":"#333","strokeWidth":1.3},"encoding":{"x":{"field":"x","type":"quantitative","scale":{"domain":[240,912],"nice":false,"zero":false},"axis":null},"x2":{"field":"x2"},"y":{"field":"y","type":"quantitative","scale":{"domain":[965,168],"nice":false,"zero":false},"axis":null},"y2":{"field":"y2"}}},{"data":{"values":[{"x":500,"x2":590,"y":172,"s":"residual var"},{"x":500,"x2":590,"y":255,"s":"chi_c"},{"x":500,"x2":590,"y":347,"s":"chi_k"}]},"mark":{"type":"rule","strokeWidth":4},"encoding":{"x":{"field":"x","type":"quantitative","scale":{"domain":[240,912],"nice":false,"zero":false},"axis":null},"x2":{"field":"x2"},"y":{"field":"y","type":"quantitative","scale":{"domain":[965,168],"nice":false,"zero":false},"axis":null},"color":{"field":"s","type":"nominal","legend":null,"scale":{"domain":["residual var","chi_c","chi_k"],"range":["#999999","#ff0000","#0000ff"]}}}},{"data":{"values":[{"x":545,"y":255,"s":"chi_c"},{"x":545,"y":347,"s":"chi_k"}]},"mark":{"type":"circle","size":110,"opacity":1},"encoding":{"x":{"field":"x","type":"quantitative","scale":{"domain":[240,912],"nice":false,"zero":false},"axis":null},"y":{"field":"y","type":"quantitative","scale":{"domain":[965,168],"nice":false,"zero":false},"axis":null},"color":{"field":"s","type":"nominal","legend":null,"scale":{"domain":["chi_c","chi_k"],"range":["#ff0000","#0000ff"]}}}},{"data":{"values":[{"x":615,"y":190,"t":"residual var"}]},"mark":{"type":"text","font":"Liberation Sans","fontSize":22,"color":"#1c1c1c"},"encoding":{"x":{"field":"x","type":"quantitative","scale":{"domain":[240,912],"nice":false,"zero":false},"axis":null},"y":{"field":"y","type":"quantitative","scale":{"domain":[965,168],"nice":false,"zero":false},"axis":null},"text":{"field":"t"}}},{"data":{"values":[{"x":617,"y":273,"t":"χ"},{"x":617,"y":365,"t":"χ"}]},"mark":{"type":"text","font":"Liberation Serif","fontStyle":"italic","fontSize":28,"color":"#1c1c1c"},"encoding":{"x":{"field":"x","type":"quantitative","scale":{"domain":[240,912],"nice":false,"zero":false},"axis":null},"y":{"field":"y","type":"quantitative","scale":{"domain":[965,168],"nice":false,"zero":false},"axis":null},"text":{"field":"t"}}},{"data":{"values":[{"x":657,"y":282,"t":"c"},{"x":657,"y":374,"t":"k"}]},"mark":{"type":"text","font":"Liberation Serif","fontStyle":"italic","fontSize":19,"color":"#1c1c1c"},"encoding":{"x":{"field":"x","type":"quantitative","scale":{"domain":[240,912],"nice":false,"zero":false},"axis":null},"y":{"field":"y","type":"quantitative","scale":{"domain":[965,168],"nice":false,"zero":false},"axis":null},"text":{"field":"t"}}},{"data":{"values":[{"x":40,"y":85,"t":"C"}]},"mark":{"type":"text","font":"Liberation Sans","fontWeight":"bold","fontSize":28,"color":"#000"},"encoding":{"x":{"field":"x","type":"quantitative","scale":{"domain":[240,912],"nice":false,"zero":false},"axis":null},"y":{"field":"y","type":"quantitative","scale":{"domain":[965,168],"nice":false,"zero":false},"axis":null},"text":{"field":"t"}}}]}]}
